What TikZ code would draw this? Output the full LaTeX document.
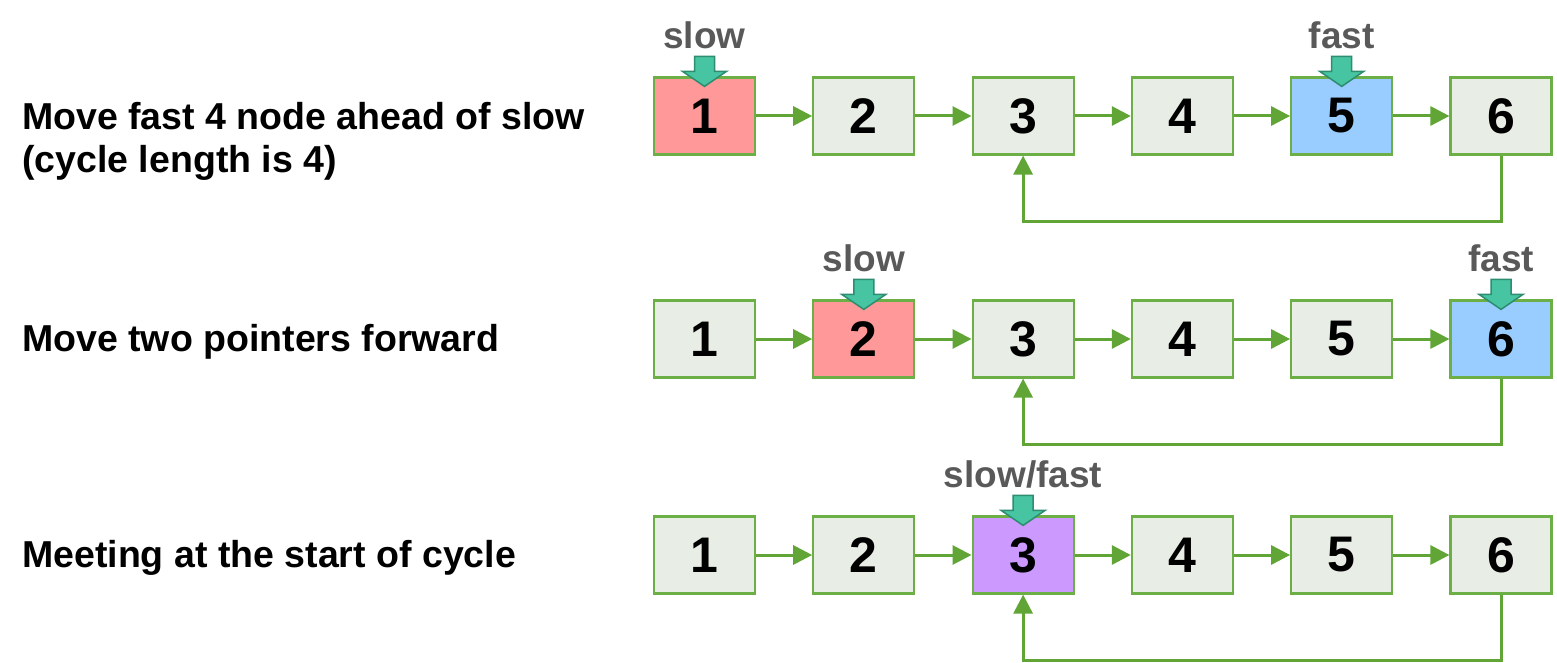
\documentclass[tikz,border=0pt]{standalone}
\usepackage{fontspec}
\setmainfont{Liberation Sans}
\usetikzlibrary{arrows.meta}
\definecolor{cellfill}{HTML}{E8EEE5}
\definecolor{cellline}{HTML}{6DAF47}
\definecolor{linkgreen}{HTML}{60A535}
\definecolor{slowred}{HTML}{FF9999}
\definecolor{fastblue}{HTML}{99CCFF}
\definecolor{meetpurple}{HTML}{CC99FF}
\definecolor{ptrfill}{HTML}{47C4A1}
\definecolor{ptrline}{HTML}{2E8C71}
\definecolor{ptrtext}{HTML}{595959}

% pointer above a cell: target node, label name, text
\newcommand{\ptr}[3]{%
  \node[ptrlabel] (#2) at ([shift={(0,-41)}]#1.north) {#3};
  \draw[ptrshape] ([shift={(-10,-20)}]#1.north) -- ++(20,0) -- ++(0,15)
    -- ++(12,0) -- ++(-22,15) -- ++(-22,-15) -- ++(12,0) -- cycle;
}

\begin{document}
\begin{tikzpicture}[x=1pt,y=-1pt,>={Triangle[length=19pt,width=19pt]},
  cell/.style={draw=cellline,line width=2.2pt,minimum width=101pt,
    minimum height=77pt,inner sep=0pt,font=\fontsize{50}{50}\selectfont\bfseries},
  link/.style={->,draw=linkgreen,line width=3pt},
  ptrlabel/.style={text=ptrtext,font=\fontsize{37}{37}\selectfont\bfseries},
  ptrshape/.style={fill=ptrfill,draw=ptrline,line width=1.5pt},
  caption/.style={anchor=west,align=left,inner sep=0pt,
    font=\fontsize{37.5}{43}\selectfont\bfseries}]
\useasboundingbox (0,0) rectangle (1557,663);
\def\dx{159.3}
% ================= the three lists =================
\foreach \r/\y/\s/\f in {1/116/1/5, 2/339/2/6, 3/555/3/3}{
  \foreach \n in {1,...,6}{
    \def\c{cellfill}
    \ifnum\n=\s \def\c{slowred}\fi
    \ifnum\n=\f \ifnum\s=\f \def\c{meetpurple}\else \def\c{fastblue}\fi\fi
    \node[cell,fill=\c] (r\r n\n) at ({704.5+(\n-1)*\dx},\y) {\n};
  }
  \foreach \n [evaluate=\n as \m using int(\n+1)] in {1,...,5}
    \draw[link] (r\r n\n) -- (r\r n\m);
  % cycle: 6 back to 3
  \draw[link] (r\r n6.south) -- ++(0,66) -| (r\r n3.south);
}
% ================= captions =================
\node[caption] (capA) at (22,141) {Move fast 4 node ahead of slow\\(cycle length is 4)};
\node[caption] (capB) at (22,342) {Move two pointers forward};
\node[caption] (capC) at (22,558) {Meeting at the start of cycle};
% ================= pointers =================
\ptr{r1n1}{slowA}{slow}
\ptr{r1n5}{fastA}{fast}
\ptr{r2n2}{slowB}{slow}
\ptr{r2n6}{fastB}{fast}
\ptr{r3n3}{meetC}{slow/fast}
\end{tikzpicture}
\end{document}
